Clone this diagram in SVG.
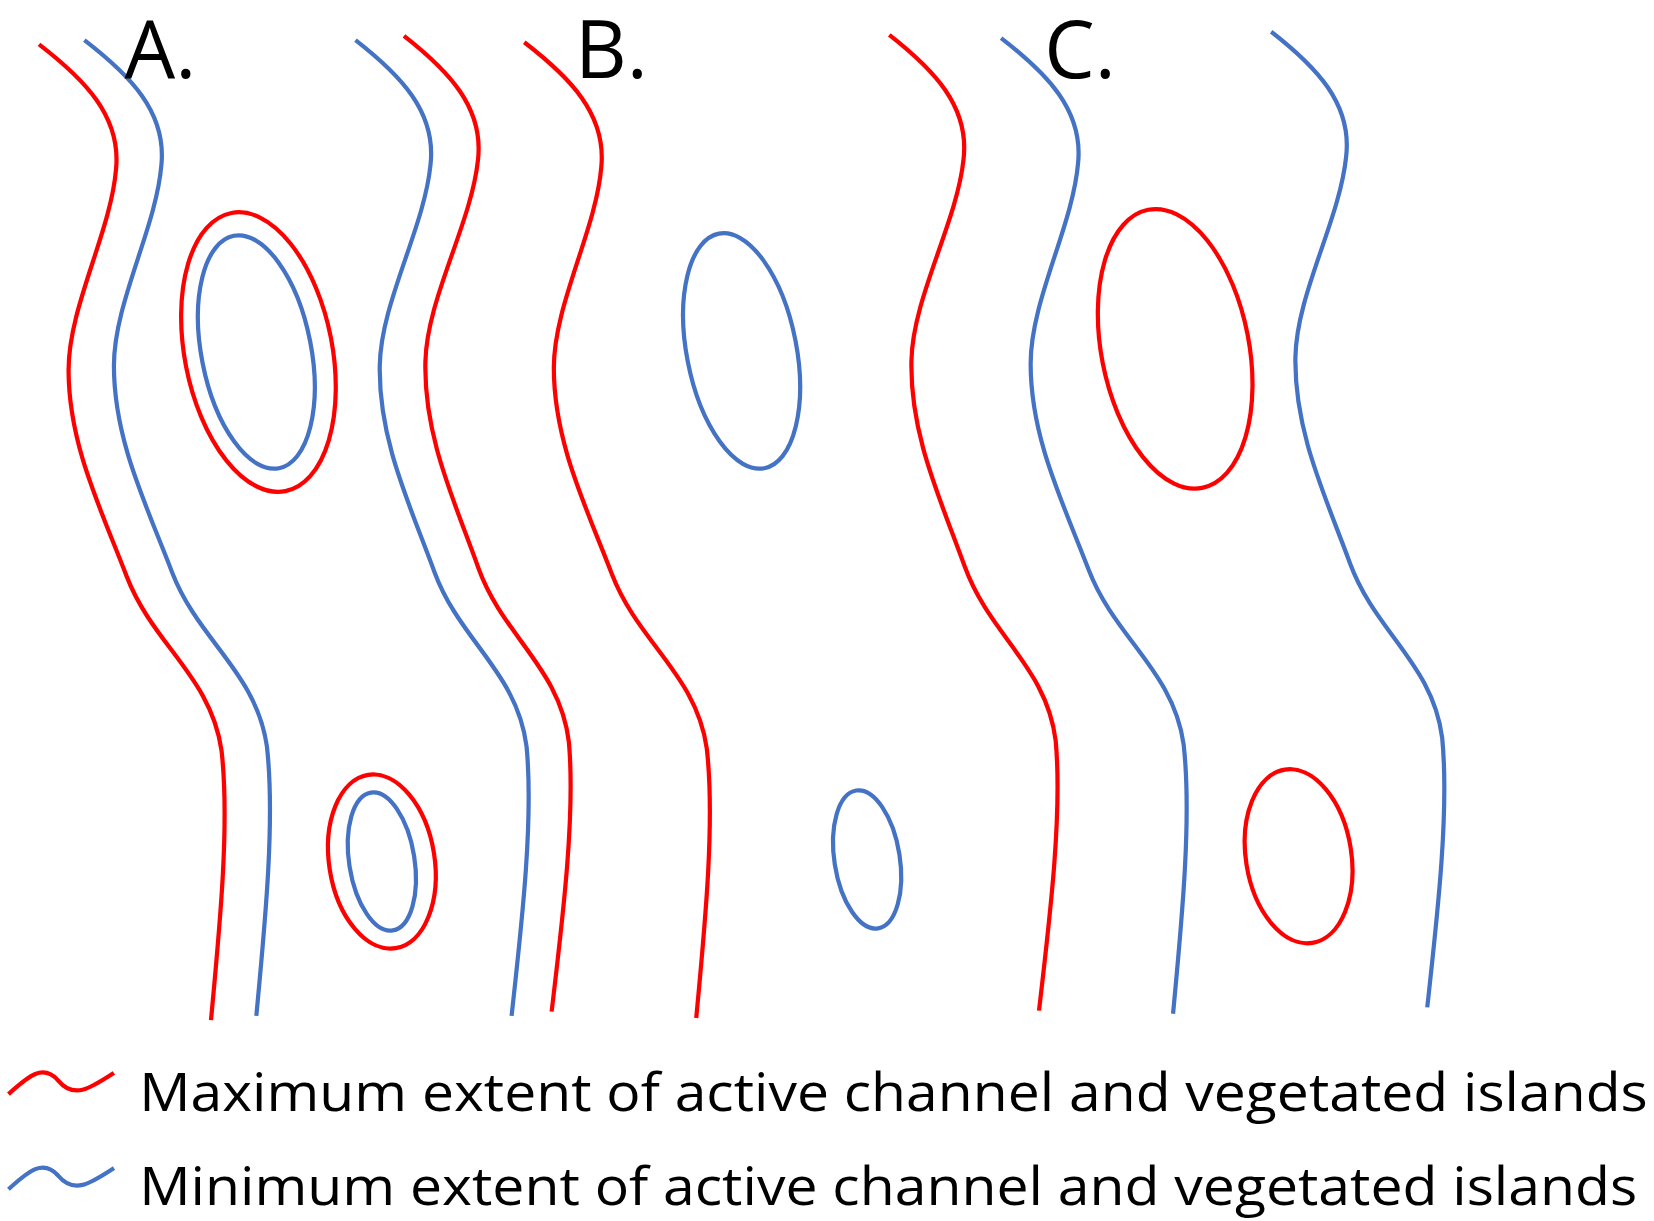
<svg xmlns="http://www.w3.org/2000/svg" xmlns:xlink="http://www.w3.org/1999/xlink" width="1654" height="1221" viewBox="0 0 1654 1221">
<style>
.r{fill:none;stroke:#ff0000;stroke-width:4}
.b{fill:none;stroke:#4472c4;stroke-width:4}
.t{font-family:"Open Sans","Liberation Sans",sans-serif;fill:#000}
</style>
<defs>
<path id="ch" d="M37,42 C80,75 115,110 110,160 C105,220 65,290 65,350 C65,420 95,480 120,545 C145,610 200,640 210,710 C218,780 208,880 200,965"/>
</defs>
<rect width="1654" height="1221" fill="#fff"/>
<g transform="scale(1.0549,1.0571)">
<g id="channels">
<use xlink:href="#ch" class="r"/>
<use xlink:href="#ch" class="b" x="43" y="-4"/>
<use xlink:href="#ch" class="b" transform="translate(300.7,-4) skewX(-0.934)"/>
<use xlink:href="#ch" class="r" transform="translate(347,-8) skewX(-1.43)"/>
<use xlink:href="#ch" class="r" x="460" y="-2"/>
<use xlink:href="#ch" class="r" transform="translate(807,-9) skewX(-1.31)"/>
<use xlink:href="#ch" class="b" x="912" y="-6"/>
<use xlink:href="#ch" class="b" transform="translate(1168.7,-12) skewX(-0.934)"/>
</g>
<g id="islandsA">
<ellipse class="r" cx="245" cy="333" rx="70" ry="134" transform="rotate(-11 245 333)"/>
<ellipse class="b" cx="243" cy="333" rx="52" ry="112" transform="rotate(-11 243 333)"/>
<ellipse class="r" cx="362" cy="815" rx="50" ry="83" transform="rotate(-9 362 815)"/>
<ellipse class="b" cx="362" cy="815" rx="31" ry="66" transform="rotate(-9 362 815)"/>
</g>
<g id="islandsB">
<ellipse class="b" cx="703" cy="332" rx="52" ry="113" transform="rotate(-11 703 332)"/>
<ellipse class="b" cx="822" cy="813" rx="31" ry="66" transform="rotate(-9 822 813)"/>
</g>
<g id="islandsC">
<ellipse class="r" cx="1114" cy="330" rx="70" ry="134" transform="rotate(-11 1114 330)"/>
<ellipse class="r" cx="1231" cy="810" rx="50" ry="83" transform="rotate(-9 1231 810)"/>
</g>
<g id="labels">
<text class="t" x="118" y="74" font-size="76">A.</text>
<text class="t" x="545" y="74" font-size="76">B.</text>
<text class="t" x="990" y="74" font-size="76">C.</text>
</g>
<g id="legend">
<path class="r" d="M8,1035 C25,1020 40,1005 55,1022 C70,1040 85,1030 108,1015"/>
<path class="b" d="M8,1125 C25,1110 40,1095 55,1112 C70,1130 85,1120 108,1105"/>
<text class="t" x="132" y="1051" font-size="50" textLength="1430" lengthAdjust="spacingAndGlyphs">Maximum extent of active channel and vegetated islands</text>
<text class="t" x="132" y="1140" font-size="50" textLength="1420" lengthAdjust="spacingAndGlyphs">Minimum extent of active channel and vegetated islands</text>
</g>
</g>
</svg>
